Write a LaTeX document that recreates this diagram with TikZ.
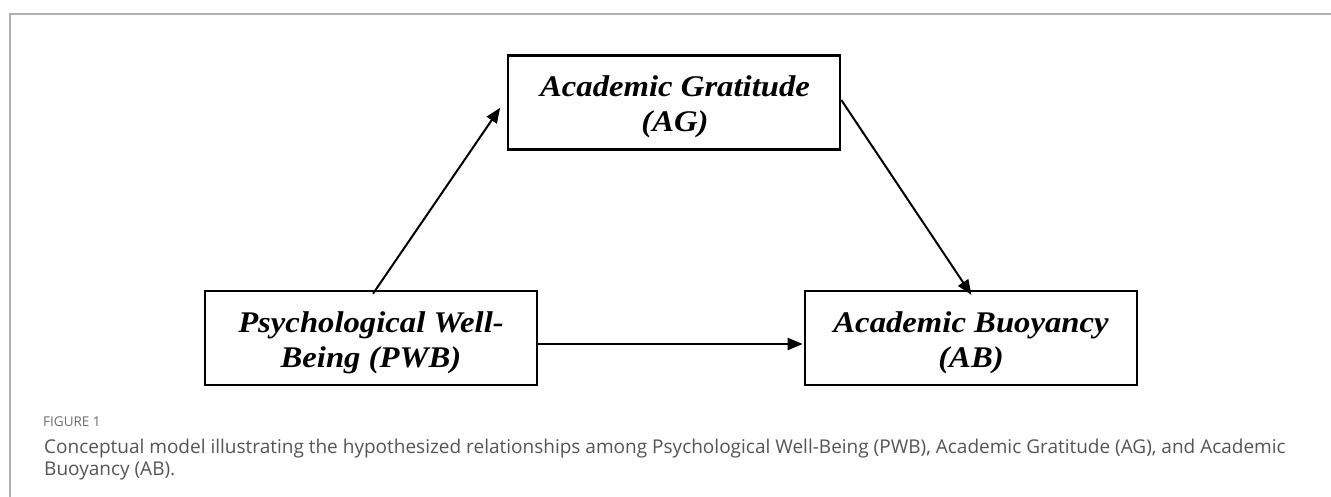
\documentclass[tikz,border=0pt]{standalone}
\usepackage{fontspec}
\usepackage{graphicx}
\setmainfont{Liberation Serif}
\newfontfamily\capfont{Open Sans}
\usetikzlibrary{arrows.meta}
\definecolor{framegray}{HTML}{B0B0B0}
\definecolor{capgray}{HTML}{555555}
\newcommand{\wideline}[1]{\scalebox{1.09}[1]{#1}}
\tikzset{
  varbox/.style={draw=black, line width=2.6pt, minimum width=332pt, minimum height=94pt, inner sep=0pt},
  boxtext/.style={anchor=base, inner sep=0pt, font=\fontsize{30}{36}\selectfont\bfseries\itshape},
  link/.style={line width=2pt, -{Triangle[length=15pt,width=12pt]}, shorten >=1pt},
  captext/.style={anchor=base west, inner sep=0pt, text=capgray, font=\capfont\fontsize{19}{23}\selectfont},
}
\begin{document}
\begin{tikzpicture}[x=1pt,y=-1pt]
\useasboundingbox (0,0) rectangle (1331,497);
\fill[white] (0,0) rectangle (1331,497);
\draw[framegray, line width=1.2pt] (10,497) -- (10,14) -- (1331,14);
\node[varbox] (AG) at (674,102.5) {};
\node[varbox] (PWB) at (371,338) {};
\node[varbox] (AB) at (971,338) {};
\node[boxtext] (AGa) at (675,97) {\wideline{Academic Gratitude}};
\node[boxtext] (AGb) at (675,132) {\wideline{(AG)}};
\node[boxtext] (PWBa) at (371,332) {\wideline{Psychological Well-}};
\node[boxtext] (PWBb) at (371,367) {\wideline{Being (PWB)}};
\node[boxtext] (ABa) at (971,332) {\wideline{Academic Buoyancy}};
\node[boxtext] (ABb) at (971,367) {\wideline{(AB)}};
\draw[link] ([xshift=2pt,yshift=-4pt]PWB.north) -- ([xshift=-6pt,yshift=-4.5pt]AG.west);
\draw[link] ([yshift=2.5pt]AG.east) -- ([xshift=1pt,yshift=-6pt]AB.north);
\draw[link] ([yshift=-6pt]PWB.east) -- ([yshift=-6pt]AB.west);
\node[anchor=base west, inner sep=0pt, text=capgray!85, font=\capfont\fontsize{13.5}{15}\selectfont] (fig) at (43,426.5) {FIGURE 1};
\node[captext] (cap1) at (44,453) {Conceptual model illustrating the hypothesized relationships among Psychological Well-Being (PWB), Academic Gratitude (AG), and Academic};
\node[captext] (cap2) at (44,475) {Buoyancy (AB).};
\end{tikzpicture}
\end{document}
